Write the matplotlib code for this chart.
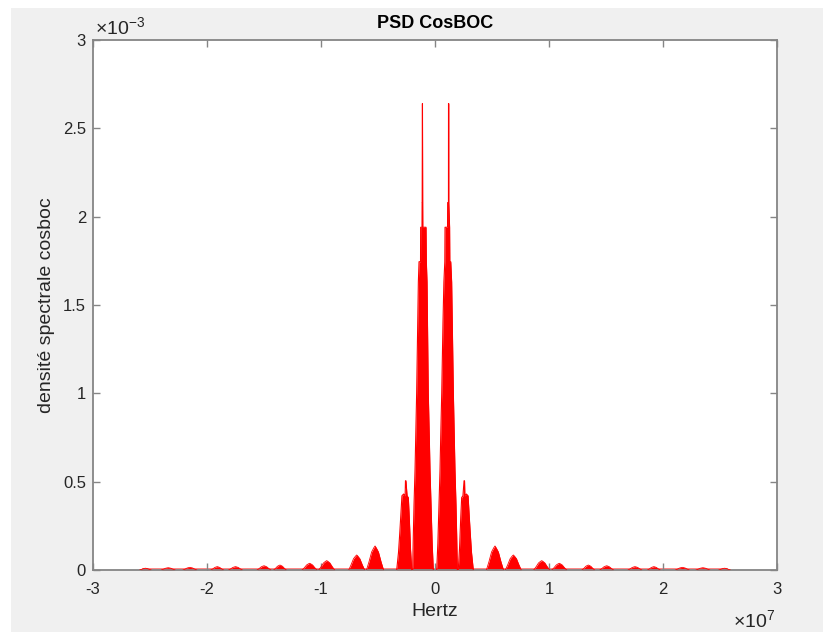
import matplotlib
matplotlib.use("Agg")
import matplotlib.pyplot as plt
from matplotlib.ticker import FuncFormatter
from matplotlib.patches import Rectangle

F_UNIT = 1e7      # Hz
P_UNIT = 1e-3     # PSD unit

# main lobes envelope (freq in 1e7 Hz, psd in 1e-3)
main_left_f = [-0.196, -0.190, -0.184, -0.175, -0.161, -0.146, -0.140, -0.127, -0.126, -0.114,
               -0.113, -0.1125, -0.1105, -0.110, -0.108, -0.107, -0.079, -0.076, -0.070, -0.059,
               -0.050, -0.044, -0.035, -0.025, -0.015]
main_left_p = [0.0, 0.20, 0.37, 0.57, 1.0, 1.63, 1.745, 1.745, 1.94, 1.94,
               2.08, 2.08, 2.64, 2.64, 2.08, 1.94, 1.94, 1.745, 1.63, 1.0,
               0.75, 0.566, 0.37, 0.15, 0.0]
main_right_f = [0.015, 0.025, 0.035, 0.044, 0.050, 0.059, 0.070, 0.078, 0.086, 0.088,
                0.110, 0.111, 0.118, 0.1185, 0.1205, 0.121, 0.128, 0.130, 0.138, 0.146,
                0.161, 0.175, 0.184, 0.190, 0.196]
main_right_p = [0.0, 0.15, 0.37, 0.566, 0.75, 1.0, 1.40, 1.63, 1.745, 1.94,
                1.94, 2.08, 2.08, 2.64, 2.64, 2.08, 1.94, 1.745, 1.745, 1.63,
                1.0, 0.57, 0.37, 0.20, 0.0]

# secondary lobes near +-0.26e7
sec_left_f = [-0.336, -0.320, -0.308, -0.298, -0.290, -0.275, -0.262, -0.259, -0.255,
              -0.245, -0.234, -0.226, -0.215, -0.204]
sec_left_p = [0.0, 0.10, 0.22, 0.33, 0.42, 0.43, 0.42, 0.505, 0.505,
              0.42, 0.41, 0.30, 0.12, 0.0]
sec_right_f = [0.204, 0.215, 0.226, 0.234, 0.245, 0.255, 0.259, 0.262, 0.275,
               0.290, 0.298, 0.308, 0.320, 0.336]
sec_right_p = [0.0, 0.12, 0.30, 0.41, 0.42, 0.505, 0.505, 0.42, 0.43,
               0.42, 0.33, 0.22, 0.10, 0.0]

# smaller side lobes: centre (1e7 Hz), half width (1e7 Hz), peak (1e-3)
side_centres = [-2.54, -2.34, -2.15, -1.91, -1.75, -1.50, -1.36, -1.10, -0.95, -0.687, -0.526,
                0.526, 0.687, 0.936, 1.09, 1.345, 1.506, 1.754, 1.92, 2.17, 2.35, 2.54]
side_halfw = [0.05, 0.06, 0.06, 0.055, 0.06, 0.06, 0.055, 0.065, 0.07, 0.07, 0.075,
              0.075, 0.07, 0.07, 0.065, 0.055, 0.06, 0.06, 0.055, 0.06, 0.06, 0.05]
side_peaks = [0.010, 0.013, 0.015, 0.019, 0.019, 0.024, 0.028, 0.038, 0.053, 0.085, 0.136,
              0.136, 0.085, 0.053, 0.038, 0.028, 0.024, 0.019, 0.019, 0.015, 0.013, 0.010]

baseline_f = [-2.56, 2.56]
baseline_p = [0.006, 0.006]

x_ticks = [-3, -2, -1, 0, 1, 2, 3]
y_ticks = [0, 0.5, 1, 1.5, 2, 2.5, 3]

RED = "#ff0000"
GREY_TXT = "#262626"
AX_COL = "#858585"

plt.rcParams['font.family'] = ['Liberation Sans', 'DejaVu Sans']
plt.rcParams['mathtext.fontset'] = 'custom'
plt.rcParams['mathtext.rm'] = 'Liberation Sans'

fig = plt.figure(figsize=(8.23, 6.32), dpi=100, facecolor="#f0f0f0")
# white margin strips of the screenshot
fig.patches.append(Rectangle((0, 0), 11 / 823, 1, transform=fig.transFigure,
                             facecolor="white", edgecolor="none", zorder=-1))
fig.patches.append(Rectangle((0, 1 - 8 / 632), 1, 8 / 632, transform=fig.transFigure,
                             facecolor="white", edgecolor="none", zorder=-1))

ax = fig.add_axes([93 / 823, 1 - 570 / 632, (777 - 93) / 823, (570 - 40) / 632])
ax.set_facecolor("white")

ax.plot([f * F_UNIT for f in baseline_f], [p * P_UNIT for p in baseline_p],
        color="#ff7070", lw=1.2, zorder=1)

for fs, ps in [(main_left_f, main_left_p), (main_right_f, main_right_p),
               (sec_left_f, sec_left_p), (sec_right_f, sec_right_p)]:
    xf = [f * F_UNIT for f in fs]
    yp = [p * P_UNIT for p in ps]
    ax.fill_between(xf, 0, yp, color=RED, lw=0, zorder=2)
    ax.plot(xf, yp, color=RED, lw=0.8, zorder=3)

shape_x = [-1.0, -0.7, -0.4, -0.15, 0.0, 0.15, 0.4, 0.7, 1.0]
shape_y = [0.0, 0.35, 0.75, 0.92, 1.0, 0.92, 0.75, 0.35, 0.0]
for c, w, pk in zip(side_centres, side_halfw, side_peaks):
    xf = [(c + s * w) * F_UNIT for s in shape_x]
    yp = [pk * s * P_UNIT for s in shape_y]
    ax.fill_between(xf, 0, yp, color=RED, lw=0, zorder=2)
    ax.plot(xf, yp, color=RED, lw=0.6, zorder=3)

ax.set_xlim(x_ticks[0] * F_UNIT, x_ticks[-1] * F_UNIT)
ax.set_ylim(y_ticks[0] * P_UNIT, y_ticks[-1] * P_UNIT)
ax.set_xticks([t * F_UNIT for t in x_ticks])
ax.set_yticks([t * P_UNIT for t in y_ticks])
ax.xaxis.set_major_formatter(FuncFormatter(lambda v, p: "%g" % round(v / F_UNIT, 6)))
ax.yaxis.set_major_formatter(FuncFormatter(lambda v, p: "%g" % round(v / P_UNIT, 6)))

ax.tick_params(direction="in", length=5, width=1.0, color=AX_COL, labelcolor=GREY_TXT,
               labelsize=12, top=True, right=True)
ax.tick_params(axis="x", pad=9)
ax.tick_params(axis="y", pad=5)
for sp in ax.spines.values():
    sp.set_color(AX_COL)
    sp.set_linewidth(1.3)

ax.text(0.003, 1.011, r"$\times\mathdefault{10^{-3}}$", transform=ax.transAxes,
        ha="left", va="baseline", fontsize=14, color=GREY_TXT)
ax.text(0.997, -0.1075, r"$\times\mathdefault{10^{7}}$", transform=ax.transAxes,
        ha="right", va="baseline", fontsize=14, color=GREY_TXT)

ax.set_title("PSD CosBOC", fontsize=13, fontweight="bold", color="black", pad=8.5)
ax.set_xlabel("Hertz", fontsize=14, color=GREY_TXT, labelpad=4)
ax.set_ylabel("densité spectrale cosboc", fontsize=14, color=GREY_TXT, labelpad=6)

fig.savefig("out.png", dpi=100, facecolor=fig.get_facecolor())
